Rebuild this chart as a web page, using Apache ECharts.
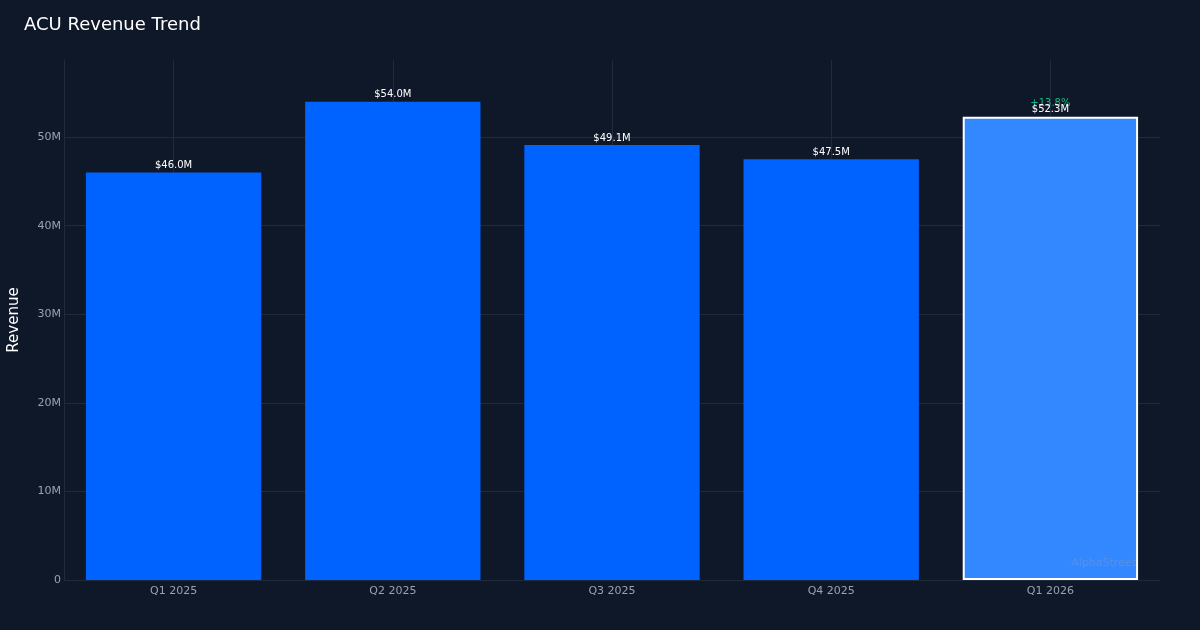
<!DOCTYPE html>
<html>
<head>
<meta charset="utf-8">
<script src="https://cdn.jsdelivr.net/npm/echarts@6/dist/echarts.min.js"></script>
<style>
html,body{margin:0;padding:0;background:#0f1829;}
#chart{width:1200px;height:630px;}
</style>
</head>
<body>
<div id="chart"></div>
<script>
const categories = ['Q1 2025', 'Q2 2025', 'Q3 2025', 'Q4 2025', 'Q1 2026'];
const revenue = [46.0, 54.0, 49.1, 47.5, 52.3];
const changeLabel = '+13.8%';
const yTicks = [0, 10, 20, 30, 40, 50];

const gridColor = '#1f2a3c';
const chart = echarts.init(document.getElementById('chart'));
const last = revenue.length - 1;

chart.setOption({
  backgroundColor: '#0f1829',
  textStyle: { fontFamily: 'DejaVu Sans' },
  title: {
    text: 'ACU Revenue Trend',
    left: 19, top: 11,
    textStyle: { color: '#ffffff', fontSize: 18, fontWeight: 'normal', fontFamily: 'DejaVu Sans' }
  },
  grid: { left: 64, right: 40, top: 60, bottom: 50, containLabel: false, outerBoundsMode: 'none' },
  xAxis: [{
    type: 'category',
    data: categories,
    axisLine: { show: true, lineStyle: { color: gridColor } },
    axisTick: { show: false },
    splitLine: { show: false },
    axisLabel: { color: '#98a2b3', fontSize: 11, margin: 6 }
  }, {
    type: 'value',
    min: 0, max: 10, interval: 1,
    show: true,
    position: 'top',
    axisLine: { show: false },
    axisTick: { show: false },
    axisLabel: { show: false },
    splitLine: { show: true, lineStyle: { color: ['transparent', gridColor], width: 1 } }
  }],
  yAxis: {
    type: 'value',
    min: 0, max: 58.7, interval: 10,
    name: 'Revenue',
    nameLocation: 'middle',
    nameGap: 42,
    nameTextStyle: { color: '#ffffff', fontSize: 15 },
    axisLine: { show: true, lineStyle: { color: gridColor } },
    axisTick: { show: false },
    axisLabel: {
      color: '#98a2b3', fontSize: 11, margin: 3, showMaxLabel: false,
      formatter: v => (yTicks.indexOf(v) >= 0 ? (v === 0 ? '0' : v + 'M') : '')
    },
    splitLine: { show: true, lineStyle: { color: [gridColor, gridColor, gridColor, gridColor, gridColor, gridColor, 'transparent'] } }
  },
  series: [{
    type: 'bar',
    xAxisIndex: 0,
    barCategoryGap: '20%',
    data: revenue.map((v, i) => i === last ? {
      value: v,
      itemStyle: { color: '#3388ff', borderColor: '#ffffff', borderWidth: 2 },
      label: { distance: 4 }
    } : { value: v, itemStyle: { color: '#0062ff' } }),
    label: {
      show: true,
      position: 'top',
      distance: 2,
      color: '#ffffff',
      fontSize: 10,
      formatter: p => p.dataIndex === last
        ? '{g|' + changeLabel + '}\n{w|$' + p.value.toFixed(1) + 'M}'
        : '$' + p.value.toFixed(1) + 'M',
      rich: {
        g: { color: '#10b981', fontSize: 10, lineHeight: 6 },
        w: { color: '#ffffff', fontSize: 10, lineHeight: 6 }
      }
    }
  }],
  graphic: [{
    type: 'text',
    right: 64, bottom: 61, z: 100,
    style: { text: 'AlphaStreet', fill: 'rgba(148,163,184,0.35)', fontSize: 11, fontFamily: 'DejaVu Sans' }
  }]
});
</script>
</body>
</html>
